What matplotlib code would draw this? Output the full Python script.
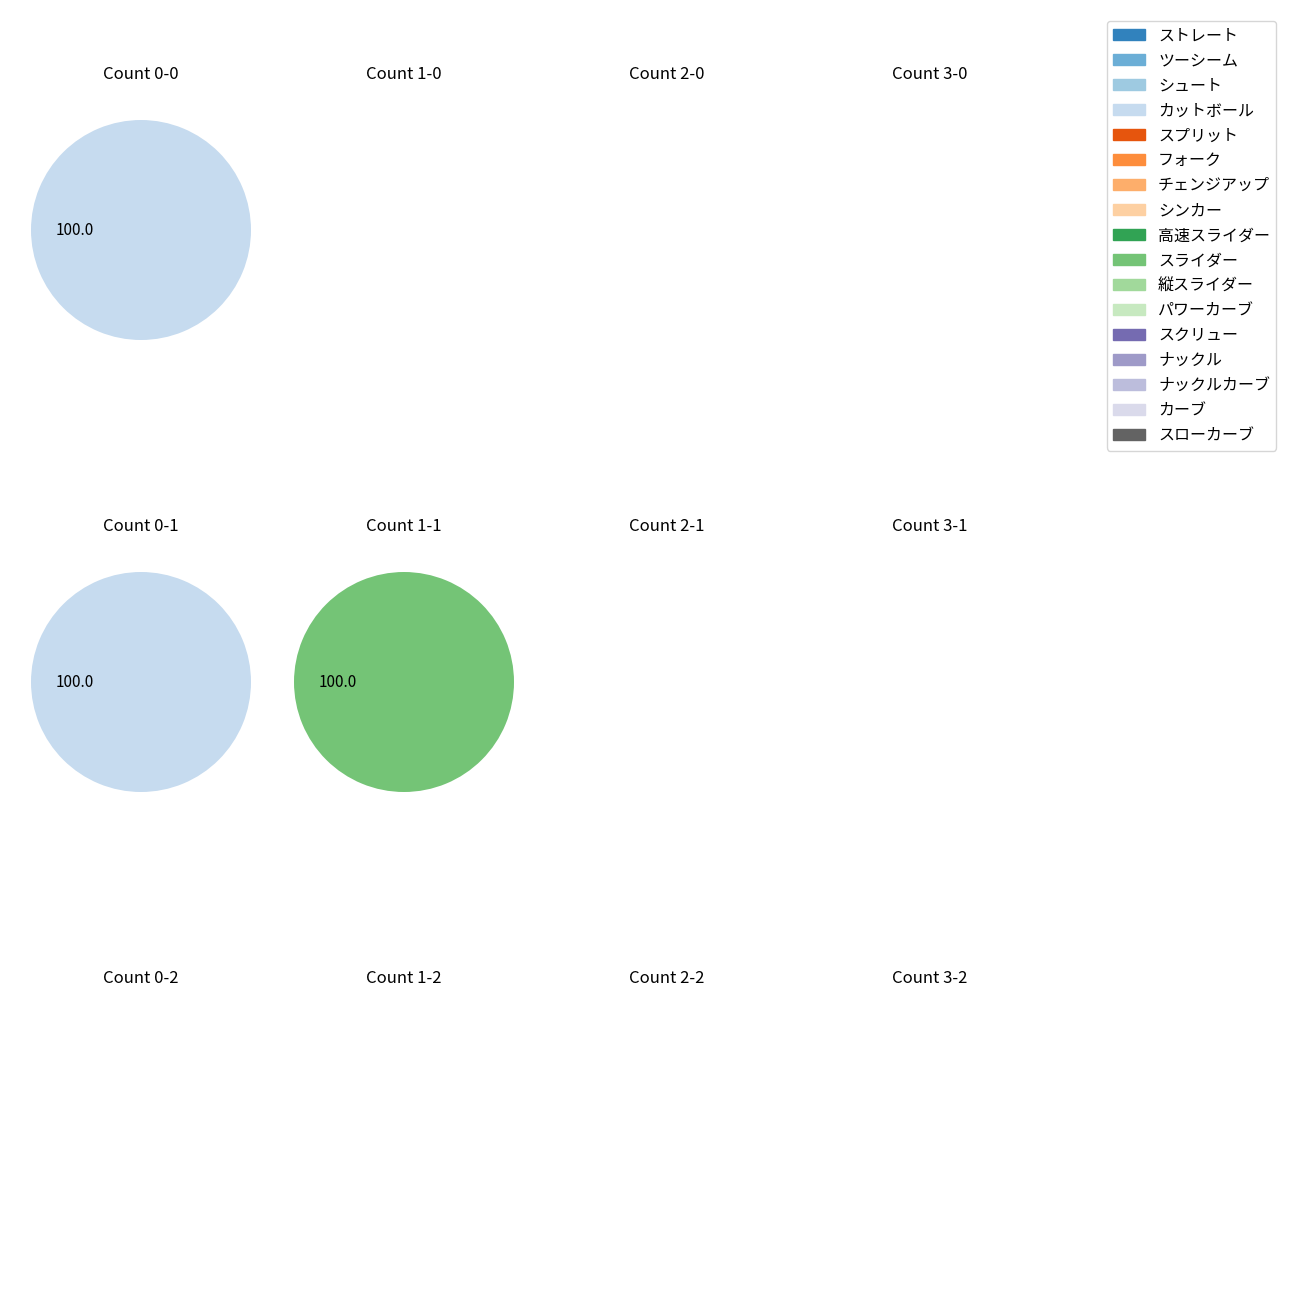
import matplotlib
matplotlib.use("Agg")
import matplotlib.pyplot as plt
from matplotlib.patches import Patch

plt.rcParams['font.family'] = ['Noto Sans CJK JP', 'DejaVu Sans']

pitch_types = ["ストレート", "ツーシーム", "シュート", "カットボール", "スプリット", "フォーク",
               "チェンジアップ", "シンカー", "高速スライダー", "スライダー", "縦スライダー",
               "パワーカーブ", "スクリュー", "ナックル", "ナックルカーブ", "カーブ", "スローカーブ"]
cmap = plt.get_cmap('tab20c')
colors = [cmap(i) for i in range(17)]

balls = [0, 1, 2, 3]
strikes = [0, 1, 2]
# counts per pitch type for each count (balls, strikes)
count_data = {
    (0, 0): {"カットボール": 1},
    (0, 1): {"カットボール": 1},
    (1, 1): {"スライダー": 1},
}

W = H = 1300
fig = plt.figure(figsize=(13, 13), dpi=100)
col_centers = [141, 404, 667, 930]
row_centers = [230, 682, 1134]
size = 275
for r, s in enumerate(strikes):
    for c, b in enumerate(balls):
        cx, cy = col_centers[c], row_centers[r]
        ax = fig.add_axes([(cx - size / 2) / W, 1 - (cy + size / 2) / H, size / W, size / H])
        ax.set_title(f"Count {b}-{s}", fontsize=12, pad=10)
        d = count_data.get((b, s))
        if d:
            vals = [d[p] for p in pitch_types if p in d]
            cols = [colors[pitch_types.index(p)] for p in pitch_types if p in d]
            ax.pie(vals, colors=cols, autopct='%.1f', textprops={'fontsize': 11})
            ax.set_xlim(-1.25, 1.25)
            ax.set_ylim(-1.25, 1.25)
        ax.axis('off')

handles = [Patch(color=colors[i], label=p) for i, p in enumerate(pitch_types)]
fig.legend(handles=handles, loc='upper right', bbox_to_anchor=(0.988, 0.99), fontsize=11.5)
fig.savefig("out.png", dpi=100)
